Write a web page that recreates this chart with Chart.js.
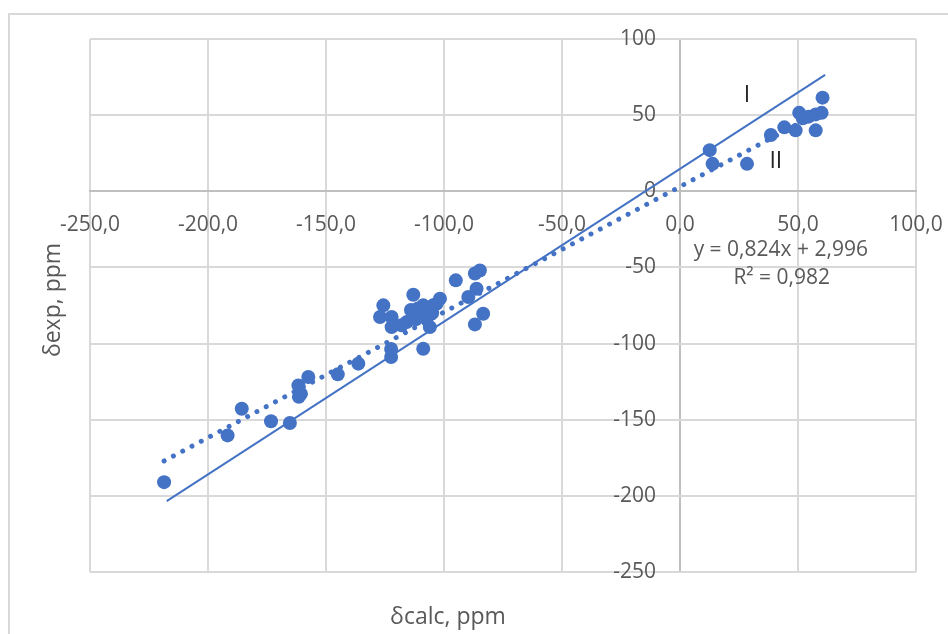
<!DOCTYPE html>
<html><head><meta charset="utf-8">
<script src="https://cdn.jsdelivr.net/npm/chart.js@4/dist/chart.umd.min.js"></script>
<style>
html,body{margin:0;padding:0;background:#fff;overflow:hidden;}
#wrap{position:relative;width:948px;height:634px;}
#frame{position:absolute;left:8px;top:13px;width:980px;height:660px;border:2px solid #d9d9d9;box-sizing:border-box;}
canvas{position:absolute;left:0;top:0;}
</style></head><body>
<div id="wrap"><div id="frame"></div><canvas id="c" width="948" height="634"></canvas></div>
<script>
const calcShift = [
  12.6, 13.8, 28.4, 38.5, 44.2, 49.0, 50.5, 52.0, 54.5, 57.5, 60.0, 60.4, 57.5,
  -95.0, -86.9, -84.8, -86.2, -89.7, -83.4, -86.9, -113.0, -101.7, -125.7, -127.1,
  -122.2, -122.2, -115.8, -113.0, -110.2, -107.4, -104.6, -103.1, -107.4, -106.0,
  -112.0, -118.0, -108.8, -111.0, -109.0, -105.0, -114.0, -108.8, -122.4, -122.4,
  -218.6, -191.7, -185.7, -173.3, -165.3, -161.7, -160.6, -161.5, -157.5, -145.0, -136.3
];
const expShift = [
  27.0, 18.0, 18.0, 37.0, 42.0, 40.0, 51.5, 48.0, 49.0, 50.5, 51.5, 61.5, 40.0,
  -58.5, -54.0, -52.0, -64.0, -69.4, -80.4, -87.4, -67.9, -70.5, -74.9, -82.6,
  -82.6, -89.2, -85.9, -81.5, -79.3, -77.1, -74.9, -73.8, -83.6, -89.2,
  -84.0, -88.0, -74.9, -77.0, -81.0, -80.0, -78.0, -103.4, -103.5, -108.8,
  -191.0, -160.3, -142.8, -151.0, -152.2, -127.5, -133.0, -135.0, -122.0, -120.2, -113.2
];
// line I (solid) end points
const lineIX = [-217.5, 61.5];
const lineIY = [-203.5, 76.5];
// trend line II (dotted): y = 0,824x + 2,996 over data range
const lineIIX = [-218.6, 60.4];
const lineIIY = [-177.1, 52.8];
// axis tick labels
const xTickValues = [-250, -200, -150, -100, -50, 0, 50, 100];
const xTickLabels = ['-250,0', '-200,0', '-150,0', '-100,0', '-50,0', '0,0', '50,0', '100,0'];
const yTickValues = [100, 50, 0, -50, -100, -150, -200, -250];
const yTickLabels = ['100', '50', '0', '-50', '-100', '-150', '-200', '-250'];
// texts
const xTitle = 'δcalc, ppm';
const yTitle = 'δexp, ppm';
const eqText = 'y = 0,824x + 2,996';
const r2Text = 'R² = 0,982';

const blue = '#4472C4';
const FONT = '"Open Sans"';

const pts = calcShift.map((x, i) => ({x, y: expShift[i]}));
const lI = lineIX.map((x, i) => ({x, y: lineIY[i]}));
const lII = lineIIX.map((x, i) => ({x, y: lineIIY[i]}));

const textPlugin = {
  id: 'texts',
  afterDraw(chart) {
    const {ctx, scales: {x, y}} = chart;
    ctx.save();
    ctx.textAlign = 'center';
    ctx.textBaseline = 'middle';
    ctx.fillStyle = '#262626';
    ctx.font = '23px ' + FONT;
    ctx.fillText('I', x.getPixelForValue(28.4), y.getPixelForValue(63));
    ctx.fillText('II', x.getPixelForValue(40.6), y.getPixelForValue(19.3));
    ctx.fillStyle = '#595959';
    ctx.font = '21px ' + FONT;
    ctx.fillText(eqText, x.getPixelForValue(42.7), y.getPixelForValue(-38.8));
    ctx.fillText(r2Text, x.getPixelForValue(43.1), y.getPixelForValue(-57.2));
    // axis titles
    ctx.font = '23px ' + FONT;
    ctx.fillText(xTitle, 448, 617);
    ctx.translate(53, 300);
    ctx.rotate(-Math.PI / 2);
    ctx.fillText(yTitle, 0, 0);
    ctx.restore();
  }
};

const gridColor = c => (c.tick && c.tick.value === 0) ? '#bfbfbf' : '#d9d9d9';

new Chart(document.getElementById('c'), {
  type: 'scatter',
  data: {
    datasets: [
      {data: pts, backgroundColor: blue, borderWidth: 0, pointRadius: 7, pointHoverRadius: 7, order: 0},
      {data: lI, showLine: true, borderColor: blue, borderWidth: 2, pointRadius: 0, order: 1},
      {data: lII, showLine: true, borderColor: blue, borderWidth: 5, borderDash: [0.01, 10.5], borderCapStyle: 'round', pointRadius: 0, order: 2}
    ]
  },
  options: {
    responsive: false,
    animation: false,
    events: [],
    layout: {padding: {left: 90, right: 32, top: 39, bottom: 62}},
    plugins: {legend: {display: false}, tooltip: {enabled: false}},
    scales: {
      x: {
        type: 'linear', min: -250, max: 100, position: {y: 0},
        afterBuildTicks: s => { s.ticks = xTickValues.map(v => ({value: v})); },
        afterFit: s => { s.paddingLeft = 0; s.paddingRight = 0; },
        ticks: {
          callback: v => xTickLabels[xTickValues.indexOf(v)],
          font: {family: 'Open Sans', size: 21}, color: '#595959', padding: 21, maxRotation: 0, autoSkip: false
        },
        grid: {color: gridColor, lineWidth: 2, drawTicks: false},
        border: {display: true, color: '#bfbfbf', width: 2}
      },
      y: {
        type: 'linear', min: -250, max: 100, position: {x: -10.2},
        afterBuildTicks: s => { s.ticks = yTickValues.map(v => ({value: v})); },
        afterFit: s => { s.paddingTop = 0; s.paddingBottom = 0; },
        ticks: {
          callback: v => yTickLabels[yTickValues.indexOf(v)],
          font: {family: 'Open Sans', size: 21}, color: '#595959', autoSkip: false
        },
        grid: {color: gridColor, lineWidth: 2, drawTicks: false},
        border: {display: false}
      }
    }
  },
  plugins: [textPlugin]
});
</script>
</body></html>
